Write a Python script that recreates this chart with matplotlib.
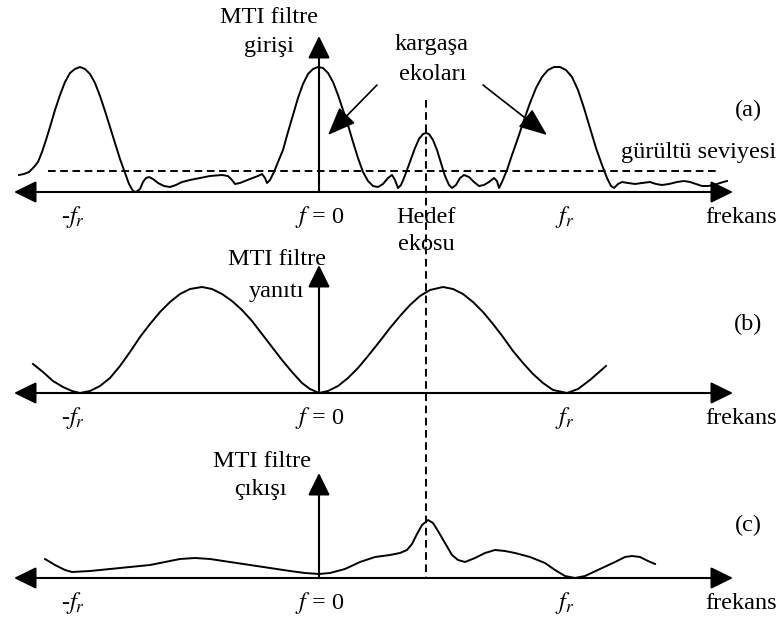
import matplotlib
matplotlib.use("Agg")
import matplotlib.pyplot as plt

plt.rcParams["font.family"] = ["Liberation Serif", "DejaVu Serif"]
plt.rcParams["mathtext.fontset"] = "stix"
plt.rcParams["lines.scale_dashes"] = False
plt.rcParams["lines.solid_joinstyle"] = "round"

# panel (a): MTI filter input spectrum (x = frequency position, h = amplitude)
a_x = [19, 24, 29, 34, 38, 42, 46, 50, 55, 60, 65, 70, 75, 80, 85, 90, 95, 100,
       105, 110, 115, 120, 125, 129, 133, 136, 140, 143, 146, 149, 153, 158, 164,
       170, 176, 182, 190, 200, 210, 222, 228, 232, 235, 240, 250, 258, 262, 265,
       267, 270, 274, 278, 283, 288, 293, 298, 303, 308, 313, 318, 323, 328, 333,
       338, 343, 348, 353, 358, 363, 368, 373, 378, 383, 388, 392, 395, 398, 401,
       404, 407, 411, 415, 419, 423, 426, 429, 433, 437, 441, 445, 449, 452, 456,
       460, 464, 469, 474, 479, 484, 489, 494, 497, 499, 502, 507, 512, 518, 524,
       530, 536, 542, 548, 554, 560, 566, 572, 578, 584, 590, 596, 602, 607, 611,
       614, 618, 622, 628, 635, 642, 650, 656, 662, 669, 677, 684, 690, 696, 702,
       708, 714, 720, 727]
a_h = [17, 18, 20, 25, 30, 40, 52, 65, 82, 97, 110, 119, 123, 125, 123, 118, 109, 96,
       81, 65, 49, 33, 19, 8, 1, 0, 3, 10, 14, 15, 13, 9, 6,
       5, 7, 10, 12, 14, 16, 17, 16, 12, 8, 9, 13, 16, 18, 14,
       9, 12, 20, 30, 42, 60, 77, 94, 108, 118, 123, 125, 124, 119, 110,
       97, 82, 67, 50, 34, 20, 11, 6, 5, 8, 14, 17, 12, 4, 7,
       14, 22, 33, 44, 53, 58, 59, 58, 52, 42, 29, 16, 7, 4, 7,
       14, 17, 15, 10, 6, 7, 10, 14, 11, 4, 10, 22, 37, 54, 72,
       89, 104, 115, 122, 125, 125, 122, 115, 102, 84, 64, 44, 27, 14, 6,
       4, 8, 10, 9, 8, 9, 10, 8, 7, 8, 10, 11, 10, 8, 6,
       6, 7, 9, 11]
noise_level = 21

# panel (b): MTI filter response
b_x = [33, 43, 53, 63, 72, 80, 90, 100, 110, 120, 130, 140, 150, 160, 170, 180,
       190, 202, 212, 222, 232, 242, 252, 262, 272, 282, 292, 302, 310, 319, 328,
       338, 348, 358, 368, 380, 390, 400, 410, 420, 430, 443, 453, 463, 473, 483,
       493, 503, 513, 523, 533, 543, 553, 567, 578, 590, 606]
b_h = [29, 21, 12, 6, 2, 0, 2, 7, 15, 27, 41, 56, 69, 81, 91, 99,
       104, 106, 104, 99, 92, 83, 72, 59, 46, 33, 21, 10, 4, 0, 2,
       7, 15, 25, 37, 52, 65, 77, 88, 97, 103, 106, 104, 99, 91, 81,
       69, 56, 42, 30, 19, 10, 3, 0, 4, 13, 27]

# panel (c): MTI filter output
c_x = [45, 55, 65, 72, 90, 110, 130, 150, 165, 180, 195, 210, 230, 250, 270, 290,
       305, 319, 330, 345, 360, 375, 390, 400, 407, 412, 417, 422, 428, 433,
       438, 445, 452, 458, 465, 475, 485, 495, 505, 515, 530, 545, 555, 565, 575,
       585, 600, 615, 625, 632, 640, 648, 655]
c_h = [19, 13, 8, 6, 7, 9, 11, 13, 16, 19, 20, 19, 16, 13, 10, 7,
       5, 4, 5, 9, 16, 21, 23, 25, 28, 34, 44, 53, 58, 55,
       47, 35, 23, 18, 16, 20, 25, 28, 27, 25, 21, 15, 8, 2, 0,
       2, 9, 16, 21, 22, 21, 17, 14]

# frequency tick positions and labels
tick_x = [73, 320, 565, 741]
tick_labels = ["-$f_r$", "$f$ = 0", "$f_r$", "frekans"]
target_x = 426

fig = plt.figure(figsize=(7.83, 6.24), dpi=100)
ax = fig.add_axes([0, 0, 1, 1])
ax.set_xlim(0, 783)
ax.set_ylim(624, 0)
ax.axis("off")

FS = 17.5
LW = 1.5
bases = [192, 393, 578]
tips = [36, 265, 473]


def axis_arrow(x0, y0, x1, y1, style, lw=LW, scale=25):
    ax.annotate("", xy=(x1, y1), xytext=(x0, y0),
                arrowprops=dict(arrowstyle=style, lw=lw, color="black",
                                mutation_scale=scale, shrinkA=0, shrinkB=0))


for base, tip in zip(bases, tips):
    axis_arrow(14, base, 733, base, "<|-|>,head_length=0.55,head_width=0.27")
    axis_arrow(319, base, 319, tip, "-|>,head_length=0.55,head_width=0.27")
    for x, lab in zip(tick_x, tick_labels):
        ax.text(x, base + 31, lab, fontsize=FS, ha="center", va="baseline")

ax.plot(a_x, [bases[0] - h for h in a_h], color="black", lw=1.4)
ax.plot(b_x, [bases[1] - h for h in b_h], color="black", lw=1.4)
ax.plot(c_x, [bases[2] - h for h in c_h], color="black", lw=1.4)

# noise level and target echo dashed lines
ax.plot([48, 720], [bases[0] - noise_level] * 2, color="black", lw=1.4,
        dashes=(5.5, 3.3))
ax.plot([target_x, target_x], [100, bases[2]], color="black", lw=1.4,
        dashes=(5.5, 3.3))

# clutter echo arrows
axis_arrow(377, 85, 328, 135, "-|>,head_length=0.7,head_width=0.28", lw=1.2)
axis_arrow(483, 85, 547, 135, "-|>,head_length=0.7,head_width=0.28", lw=1.2)

# annotations
ax.text(269, 23, "MTI filtre", fontsize=FS, ha="center", va="baseline")
ax.text(269, 52, "girişi", fontsize=FS, ha="center", va="baseline")
ax.text(432, 50, "kargaşa", fontsize=FS, ha="center", va="baseline")
ax.text(433, 80, "ekoları", fontsize=FS, ha="center", va="baseline")
ax.text(699, 158, "gürültü seviyesi", fontsize=FS, ha="center", va="baseline")
ax.text(target_x, 250, "ekosu", fontsize=FS, ha="center", va="baseline")
ax.text(target_x, 223, "Hedef", fontsize=FS, ha="center", va="baseline")
ax.text(277, 265, "MTI filtre", fontsize=FS, ha="center", va="baseline")
ax.text(276, 297, "yanıtı", fontsize=FS, ha="center", va="baseline")
ax.text(262, 467, "MTI filtre", fontsize=FS, ha="center", va="baseline")
ax.text(260, 495, "çıkışı", fontsize=FS, ha="center", va="baseline")
ax.text(748, 116, "(a)", fontsize=FS, ha="center", va="baseline")
ax.text(748, 330, "(b)", fontsize=FS, ha="center", va="baseline")
ax.text(748, 531, "(c)", fontsize=FS, ha="center", va="baseline")

fig.savefig("out.png", dpi=100)
